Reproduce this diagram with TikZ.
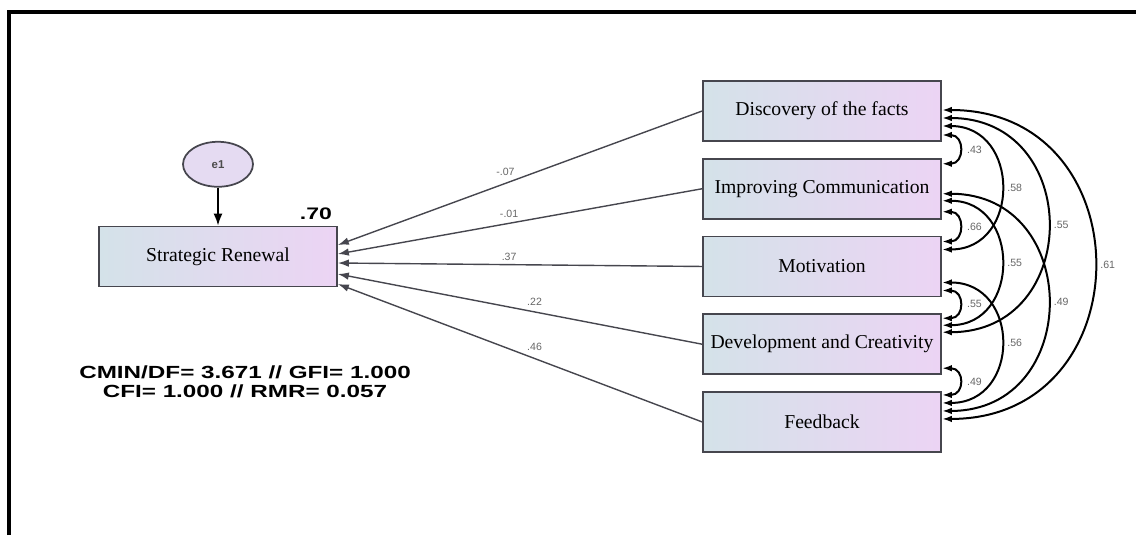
\documentclass[tikz,border=0pt]{standalone}
\usepackage{fontspec}
\setmainfont{Liberation Serif}
\setsansfont{Liberation Sans}
\newfontfamily\widesans[FakeStretch=1.38]{Liberation Sans}
\usetikzlibrary{arrows.meta,shapes.geometric,calc,positioning}
\definecolor{boxLeft}{RGB}{212,226,233}
\definecolor{boxRight}{RGB}{236,212,244}
\definecolor{errorColor}{RGB}{229,219,242}
\definecolor{lineColor}{RGB}{70,70,78}
\tikzset{observed/.style={draw=lineColor, line width=0.035cm, left color=boxLeft, right color=boxRight, minimum width=4.76cm, minimum height=1.2cm, inner sep=0pt, font=\fontsize{11.2}{13}\selectfont}}
\tikzset{errvar/.style={ellipse, draw=lineColor, line width=0.035cm, fill=errorColor, minimum width=1.4cm, minimum height=0.9cm, inner sep=0pt, font=\sffamily\bfseries\fontsize{6.5}{6.5}\selectfont, text=black!70}}
\tikzset{coef/.style={font=\sffamily\fontsize{6}{6}\selectfont, text=black!60, inner sep=1pt}}
\tikzstyle{regress} = [-{Latex[length=0.22cm,width=0.15cm]}, line width=0.028cm, draw=lineColor]
\tikzstyle{cov} = [{Latex[length=0.2cm,width=0.13cm]}-{Latex[length=0.2cm,width=0.13cm]}, line width=0.04cm]

\begin{document}
\begin{tikzpicture}[x=0.02cm, y=-0.02cm, node distance=0.32cm]
	\useasboundingbox (0,0) rectangle (1136,535);
	\draw [line width=0.07cm] (9,535) |- (1136,12);

	% Nodes
	\node (renewal) [observed] at (218,256.5) {Strategic Renewal};
	\node (e1) [errvar, above=0.76cm of renewal] {e1};
	\node (rsq) at (316,214) [font=\widesans\bfseries\fontsize{9.5}{9.5}\selectfont] {.70};

	\node (facts) [observed] at (822,111) {Discovery of the facts};
	\node (comm) [observed, below=of facts] {Improving Communication};
	\node (motiv) [observed, below=of comm] {Motivation};
	\node (devel) [observed, below=of motiv] {Development and Creativity};
	\node (feedback) [observed, below=of devel] {Feedback};

	\node (fitstats) at (245,381.5) [align=center, font=\widesans\bfseries\fontsize{10}{10.8}\selectfont] {CMIN/DF= 3.671 // GFI= 1.000\\CFI= 1.000 // RMR= 0.057};

	% Connectors
	\draw [-{Latex[length=0.24cm,width=0.18cm]}, line width=0.035cm] (e1) -- (renewal);

	\draw [regress] (facts.west) -- node[coef, pos=0.54, above=3pt] {-.07} ($(renewal.east)+(0,-11.5)$);
	\draw [regress] (comm.west) -- node[coef, pos=0.53, above=2pt] {-.01} ($(renewal.east)+(0,-2.5)$);
	\draw [regress] (motiv.west) -- node[coef, pos=0.53, above=1pt] {.37} ($(renewal.east)+(0,6.5)$);
	\draw [regress] (devel.west) -- node[coef, pos=0.46, above=2pt] {.22} ($(renewal.east)+(0,17.5)$);
	\draw [regress] (feedback.west) -- node[coef, pos=0.46, above=3pt] {.46} ($(renewal.east)+(0,27.5)$);

	% covariances
	\draw [cov] ($(facts.east)+(0,-1)$) .. controls +(203,0) and +(203,0) .. node[coef, pos=0.5, right=2pt] {.61} ($(feedback.east)+(0,-3)$);
	\draw [cov] ($(facts.east)+(0,7)$) .. controls +(141,0) and +(141,0) .. node[coef, pos=0.5, right=2pt] {.55} ($(devel.east)+(0,-12)$);
	\draw [cov] ($(facts.east)+(0,15)$) .. controls +(79,0) and +(79,0) .. node[coef, pos=0.5, right=2pt] {.58} ($(motiv.east)+(0,-17)$);
	\draw [cov] ($(comm.east)+(0,12)$) .. controls +(79,0) and +(79,0) .. node[coef, pos=0.5, right=2pt] {.55} ($(devel.east)+(0,-19)$);
	\draw [cov] ($(comm.east)+(0,5)$) .. controls +(141,0) and +(141,0) .. node[coef, pos=0.5, right=2pt] {.49} ($(feedback.east)+(0,-11)$);
	\draw [cov] ($(motiv.east)+(0,16)$) .. controls +(79,0) and +(79,0) .. node[coef, pos=0.5, right=2pt] {.56} ($(feedback.east)+(0,-19)$);

	\draw [cov] ($(facts.east)+(0,24)$) .. controls +(23,0) and +(23,0) .. node[coef, pos=0.5, right=3pt] {.43} ($(comm.east)+(0,-25)$);
	\draw [cov] ($(comm.east)+(0,23)$) .. controls +(23,0) and +(23,0) .. node[coef, pos=0.5, right=3pt] {.66} ($(motiv.east)+(0,-25)$);
	\draw [cov] ($(motiv.east)+(0,24)$) .. controls +(23,0) and +(23,0) .. node[coef, pos=0.5, right=3pt] {.55} ($(devel.east)+(0,-26)$);
	\draw [cov] ($(devel.east)+(0,24)$) .. controls +(23,0) and +(23,0) .. node[coef, pos=0.5, right=3pt] {.49} ($(feedback.east)+(0,-27)$);
\end{tikzpicture}
\end{document}
